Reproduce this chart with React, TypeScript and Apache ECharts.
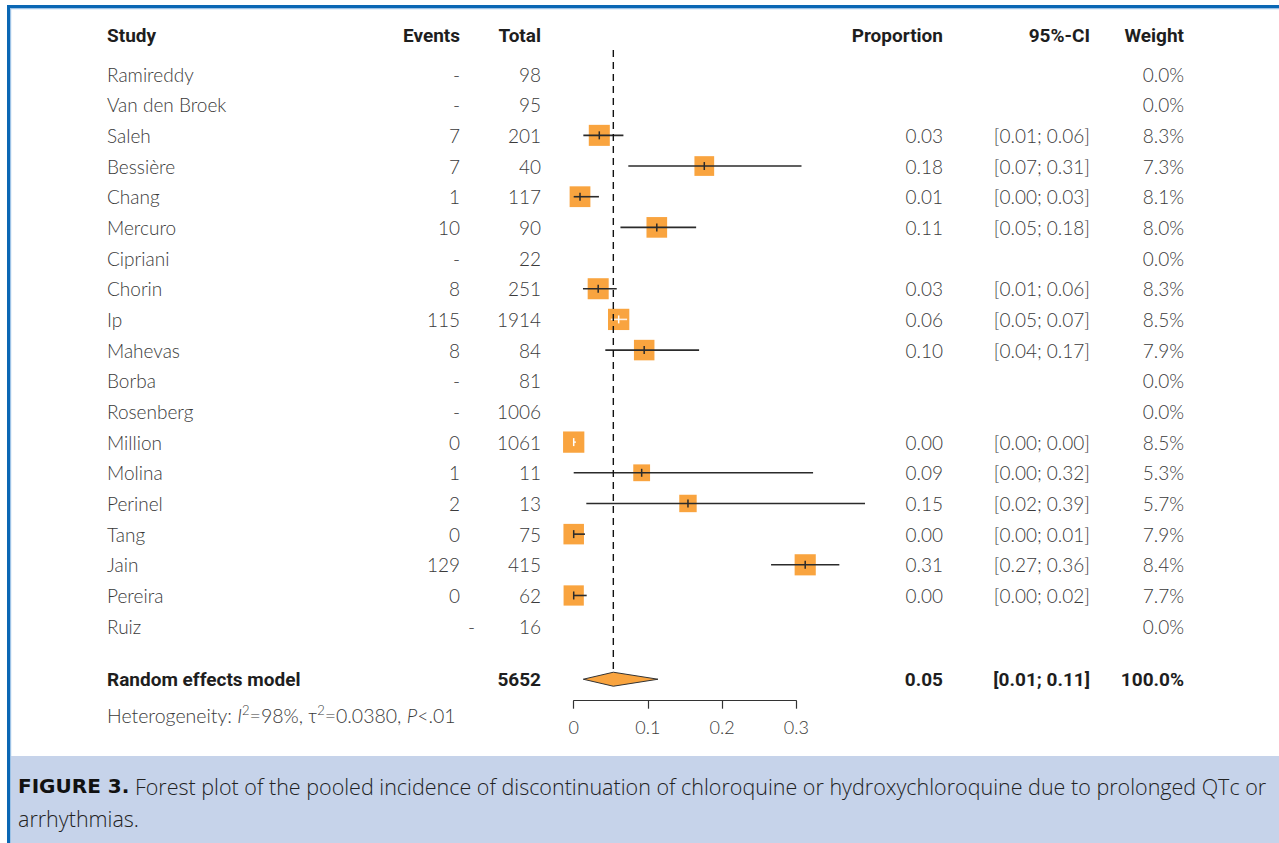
import React, { useEffect, useRef } from "react";
import * as echarts from "echarts";

// ---------- data ----------
const headers = ["Study", "Events", "Total", "Proportion", "95%-CI", "Weight"];
const studies = [
  "Ramireddy", "Van den Broek", "Saleh", "Bessière", "Chang", "Mercuro", "Cipriani",
  "Chorin", "Ip", "Mahevas", "Borba", "Rosenberg", "Million", "Molina", "Perinel",
  "Tang", "Jain", "Pereira", "Ruiz",
];
const events = ["-", "-", "7", "7", "1", "10", "-", "8", "115", "8", "-", "-", "0", "1", "2", "0", "129", "0", "-"];
const totals = ["98", "95", "201", "40", "117", "90", "22", "251", "1914", "84", "81", "1006", "1061", "11", "13", "75", "415", "62", "16"];
const proportionText = ["", "", "0.03", "0.18", "0.01", "0.11", "", "0.03", "0.06", "0.10", "", "", "0.00", "0.09", "0.15", "0.00", "0.31", "0.00", ""];
const ciText = [
  "", "", "[0.01; 0.06]", "[0.07; 0.31]", "[0.00; 0.03]", "[0.05; 0.18]", "",
  "[0.01; 0.06]", "[0.05; 0.07]", "[0.04; 0.17]", "", "", "[0.00; 0.00]", "[0.00; 0.32]",
  "[0.02; 0.39]", "[0.00; 0.01]", "[0.27; 0.36]", "[0.00; 0.02]", "",
];
const weightText = ["0.0%", "0.0%", "8.3%", "7.3%", "8.1%", "8.0%", "0.0%", "8.3%", "8.5%", "7.9%", "0.0%", "0.0%", "8.5%", "5.3%", "5.7%", "7.9%", "8.4%", "7.7%", "0.0%"];
const weights = [0, 0, 8.3, 7.3, 8.1, 8.0, 0, 8.3, 8.5, 7.9, 0, 0, 8.5, 5.3, 5.7, 7.9, 8.4, 7.7, 0];
const estimates = [null, null, 0.0345, 0.176, 0.0085, 0.112, null, 0.033, 0.0606, 0.095, null, null, 0.0, 0.0916, 0.154, 0.0, 0.312, 0.0, null];
const lower = [null, null, 0.013, 0.0736, 0.0, 0.063, null, 0.0125, 0.05, 0.0426, null, null, 0.0, 0.0, 0.017, 0.0, 0.266, 0.0, null];
const upper = [null, null, 0.067, 0.307, 0.034, 0.165, null, 0.058, 0.072, 0.169, null, null, 0.003, 0.3226, 0.3926, 0.0152, 0.358, 0.0175, null];
const pooledCI = [0.0129, 0.0534, 0.1136]; // lower, estimate, upper
const summaryText = ["Random effects model", "5652", "0.05", "[0.01; 0.11]", "100.0%"];
const axisTicks = [0, 0.1, 0.2, 0.3];
const captionBold = "FIGURE 3.";
const captionLines = [
  " Forest plot of the pooled incidence of discontinuation of chloroquine or hydroxychloroquine due to prolonged QTc or",
  "arrhythmias.",
];

// ---------- layout ----------
const W = 1279;
const H = 843;
const ROW_HEADER = -1.24;
const ROW_SUMMARY = 19.73;
const ROW_HET = 20.9;
const ROW_REF_TOP = -0.78;
const COL = { study: 107, events: 460, total: 541, prop: 943, ci: 1090, weight: 1184 };
const ORANGE = "#F9A43F";
const BODY_FONT = "Lato";
const BOLD_FONT = "Roboto";
const CAPTION_FONT = "Open Sans";

const txt = (text: string, x: number, y: number, align: string, bold = false, size = 19) => ({
  type: "text",
  style: {
    text,
    x,
    y,
    align,
    verticalAlign: "middle",
    fill: bold ? "#1e1e1e" : "#3a3a3a",
    fontFamily: bold ? BOLD_FONT : BODY_FONT,
    fontWeight: bold ? "bold" : 300,
    fontSize: size,
  },
});

export default function App() {
  const ref = useRef<HTMLDivElement>(null);

  useEffect(() => {
    if (!ref.current) return;
    const chart = echarts.init(ref.current, null, { renderer: "svg", width: W, height: H });

    const forestData: any[] = [];
    estimates.forEach((e, i) => {
      if (e !== null) forestData.push([e, i, lower[i], upper[i], weights[i]]);
    });

    const option: any = {
      animation: false,
      backgroundColor: "#ffffff",
      grid: { left: 573.7, width: 222.6, top: 43.33, height: 657.37 },
      xAxis: {
        type: "value",
        min: 0,
        max: 0.3,
        interval: 0.1,
        position: "bottom",
        splitLine: { show: false },
        axisLine: { show: true, onZero: false, lineStyle: { color: "#333", width: 1.2 } },
        axisTick: { show: true, length: 8, lineStyle: { color: "#333", width: 1.2 } },
        axisLabel: {
          margin: 17,
          color: "#3a3a3a",
          fontFamily: BODY_FONT,
          fontWeight: 300,
          fontSize: 18,
          customValues: axisTicks,
          formatter: (v: number) => (v === 0 ? "0" : v.toFixed(1)),
        },
      },
      yAxis: { type: "value", inverse: true, min: -1, max: 20.43, show: false },
      graphic: [
        { type: "rect", shape: { x: 7, y: 5, width: W - 7, height: 3 }, style: { fill: "#0a67b4" } },
        { type: "rect", shape: { x: 10, y: 8, width: W - 10, height: 1.2 }, style: { fill: "#9cc2e6" } },
        { type: "rect", shape: { x: 7, y: 5, width: 3, height: H - 5 }, style: { fill: "#0a67b4" } },
        { type: "rect", shape: { x: 10, y: 9, width: 1.2, height: H - 9 }, style: { fill: "#9cc2e6" } },
        { type: "rect", shape: { x: 11, y: 756, width: W - 11, height: H - 756 }, style: { fill: "#c6d3ea" } },
        {
          type: "text",
          x: 18,
          y: 786,
          style: {
            text: `{b|${captionBold}}{n|${captionLines[0]}}`,
            verticalAlign: "middle",
            rich: {
              b: { fontFamily: "DejaVu Sans", fontWeight: "bold", fontSize: 20, fill: "#111" },
              n: { fontFamily: CAPTION_FONT, fontWeight: 300, fontSize: 21.5, fill: "#222" },
            },
          },
        },
        {
          type: "text",
          x: 18,
          y: 818,
          style: {
            text: captionLines[1],
            verticalAlign: "middle",
            fontFamily: CAPTION_FONT,
            fontWeight: 300,
            fontSize: 21.5,
            fill: "#222",
          },
        },
      ],
      series: [
        // header
        {
          type: "custom",
          clip: false,
          silent: true,
          data: [[0, ROW_HEADER]],
          encode: { x: 0, y: 1 },
          renderItem: (_p: any, api: any) => {
            const y = api.coord([0, api.value(1)])[1];
            return {
              type: "group",
              children: [
                txt(headers[0], COL.study, y, "left", true),
                txt(headers[1], COL.events, y, "right", true),
                txt(headers[2], COL.total, y, "right", true),
                txt(headers[3], COL.prop, y, "right", true),
                txt(headers[4], COL.ci, y, "right", true),
                txt(headers[5], COL.weight, y, "right", true),
              ],
            };
          },
        },
        // study rows text
        {
          type: "custom",
          clip: false,
          silent: true,
          data: studies.map((_, i) => [0, i]),
          encode: { x: 0, y: 1 },
          renderItem: (p: any, api: any) => {
            const i = p.dataIndex;
            const y = api.coord([0, api.value(1)])[1];
            const evX = studies[i] === "Ruiz" ? COL.events + 15 : COL.events;
            return {
              type: "group",
              children: [
                txt(studies[i], COL.study, y, "left"),
                txt(events[i], evX, y, "right"),
                txt(totals[i], COL.total, y, "right"),
                txt(proportionText[i], COL.prop, y, "right"),
                txt(ciText[i], COL.ci, y, "right"),
                txt(weightText[i], COL.weight, y, "right"),
              ],
            };
          },
        },
        // summary + heterogeneity
        {
          type: "custom",
          clip: false,
          silent: true,
          data: [[0, ROW_SUMMARY, ROW_HET]],
          encode: { x: 0, y: 1 },
          renderItem: (_p: any, api: any) => {
            const y = api.coord([0, api.value(1)])[1];
            const yh = api.coord([0, api.value(2)])[1];
            return {
              type: "group",
              children: [
                txt(summaryText[0], COL.study, y, "left", true),
                txt(summaryText[1], COL.total, y, "right", true),
                txt(summaryText[2], COL.prop, y, "right", true),
                txt(summaryText[3], COL.ci, y, "right", true),
                txt(summaryText[4], COL.weight, y, "right", true),
                {
                  type: "text",
                  style: {
                    x: COL.study,
                    y: yh,
                    verticalAlign: "middle",
                    text: "{n|Heterogeneity: }{i|I}{s|2}{n|=98%, τ}{s|2}{n|=0.0380, }{i|P}{n|<.01}",
                    rich: {
                      n: { fontFamily: BODY_FONT, fontWeight: 300, fontSize: 19.5, fill: "#3a3a3a", lineHeight: 24 },
                      i: { fontFamily: BODY_FONT, fontWeight: 300, fontStyle: "italic", fontSize: 19.5, fill: "#3a3a3a", lineHeight: 24 },
                      s: { fontFamily: BODY_FONT, fontWeight: 300, fontSize: 13, fill: "#3a3a3a", verticalAlign: "top", lineHeight: 13 },
                    },
                  },
                },
              ],
            };
          },
        },
        // study markers
        {
          type: "custom",
          clip: false,
          silent: true,
          data: forestData,
          encode: { x: 0, y: 1 },
          renderItem: (_p: any, api: any) => {
            const est = api.value(0);
            const i = api.value(1);
            const [cx, cy] = api.coord([est, i]);
            const xl = api.coord([api.value(2), i])[0];
            const xh = api.coord([api.value(3), i])[0];
            const side = 7.3 * Math.sqrt(api.value(4));
            const inside = xl >= cx - side / 2 && xh <= cx + side / 2;
            const c = inside ? "#ffffff" : "#2b2b2b";
            return {
              type: "group",
              children: [
                { type: "rect", shape: { x: cx - side / 2, y: cy - side / 2, width: side, height: side }, style: { fill: ORANGE } },
                { type: "line", shape: { x1: xl, y1: cy, x2: xh, y2: cy }, style: { stroke: c, lineWidth: 1.6, opacity: inside ? 0.85 : 1 } },
                { type: "line", shape: { x1: cx, y1: cy - 4, x2: cx, y2: cy + 4 }, style: { stroke: c, lineWidth: 1.5 } },
              ],
            };
          },
        },
        // reference line + diamond
        {
          type: "custom",
          clip: false,
          silent: true,
          data: [[pooledCI[1], ROW_SUMMARY, pooledCI[0], pooledCI[2], ROW_REF_TOP]],
          encode: { x: 0, y: 1 },
          renderItem: (_p: any, api: any) => {
            const [cx, cy] = api.coord([api.value(0), api.value(1)]);
            const xl = api.coord([api.value(2), api.value(1)])[0];
            const xh = api.coord([api.value(3), api.value(1)])[0];
            const yTop = api.coord([api.value(0), api.value(4)])[1];
            const hh = 7;
            return {
              type: "group",
              children: [
                {
                  type: "line",
                  shape: { x1: cx, y1: yTop, x2: cx, y2: cy - hh },
                  style: { stroke: "#111", lineWidth: 1.4, lineDash: [7, 5] },
                },
                {
                  type: "polygon",
                  shape: { points: [[xl, cy], [cx, cy - hh], [xh, cy], [cx, cy + hh]] },
                  style: { fill: ORANGE, stroke: "#333", lineWidth: 1 },
                },
              ],
            };
          },
        },
      ],
    };

    chart.setOption(option);
    return () => chart.dispose();
  }, []);

  return (
    <div
      ref={ref}
      style={{ position: "fixed", left: 0, top: 0, width: W, height: H, background: "#fff" }}
    />
  );
}
